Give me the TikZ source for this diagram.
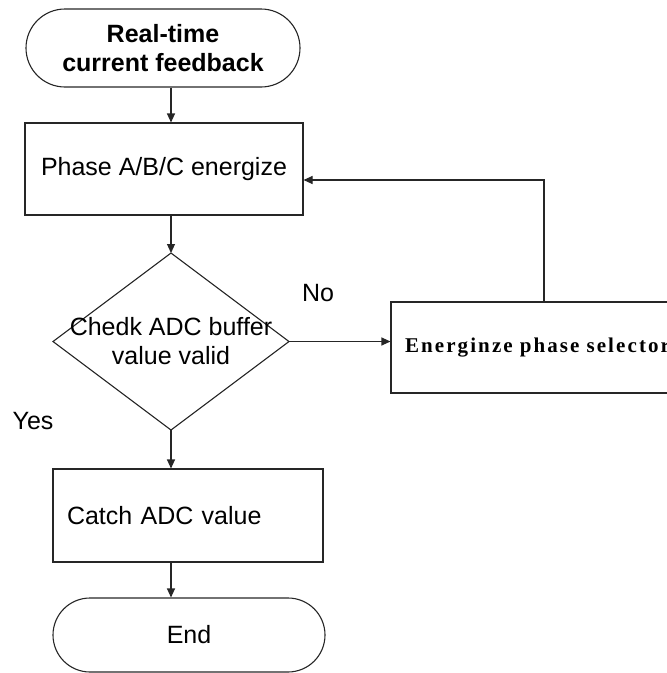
\documentclass[tikz,border=0pt]{standalone}
\usepackage{fontspec}
\setmainfont{Liberation Sans}
\newfontfamily\serifbold{Liberation Serif}[LetterSpace=10]
\usetikzlibrary{shapes.geometric,shapes.misc,arrows.meta}
\begin{document}
\begin{tikzpicture}[x=1pt,y=-1pt,
  every node/.style={font=\fontsize{25}{29}\selectfont, inner sep=0pt},
  outline/.style={draw=black!85, line width=1.1pt},
  termbox/.style={outline, rounded rectangle, align=center},
  procbox/.style={outline, rectangle},
  decbox/.style={outline, diamond, outer sep=0pt},
  flow/.style={draw=black!85, line width=1.1pt, -{Triangle[length=9pt,width=8pt]}},
  tag/.style={}
]
\useasboundingbox (0,0) rectangle (667,673);
\clip (0,0) rectangle (667,673);

% flowchart blocks
\node[termbox, minimum width=274pt, minimum height=78pt, font=\fontsize{25}{29}\selectfont\bfseries]
  (start) at (163,48) {Real-time\\current feedback};
\node[procbox, minimum width=278pt, minimum height=92pt] (phase) at (164,169) {Phase A/B/C energize};
\node[decbox, minimum width=236pt, minimum height=177pt] (check) at (171,341.5) {};
\node[align=center] (checktext) at (check.center) {Chedk ADC buffer\\value valid};
\node[procbox, minimum width=330pt, minimum height=91pt, text width=302pt, inner xsep=14pt, align=left,
  font=\fontsize{21}{24}\selectfont\serifbold\bfseries]
  (sel) at (556,347.5) {\raisebox{-2pt}{Energinze phase selector}};
\node[procbox, minimum width=270pt, minimum height=93pt, text width=242pt, inner xsep=14pt, align=left]
  (catch) at (188,515.5) {Catch ADC value};
\node[termbox, minimum width=272pt, minimum height=74pt] (stop) at (189,635) {End};

% branch labels
\node[tag] (no) at (318,293) {No};
\node[tag] (yes) at (33,421) {Yes};

% connectors
\coordinate (turn) at (544,180);
\draw[flow] (start.south -| check.north) -- (phase.north -| check.north);
\draw[flow] (phase.south -| check.north) -- (check.north);
\draw[flow] (check.east) -- (check.east -| sel.west);
\draw[flow] (sel.north -| turn) -- (turn) -- (turn -| phase.east);
\draw[flow] (check.south) -- (catch.north -| check.south);
\draw[flow] (catch.south -| check.south) -- (stop.north -| check.south);
\end{tikzpicture}
\end{document}
